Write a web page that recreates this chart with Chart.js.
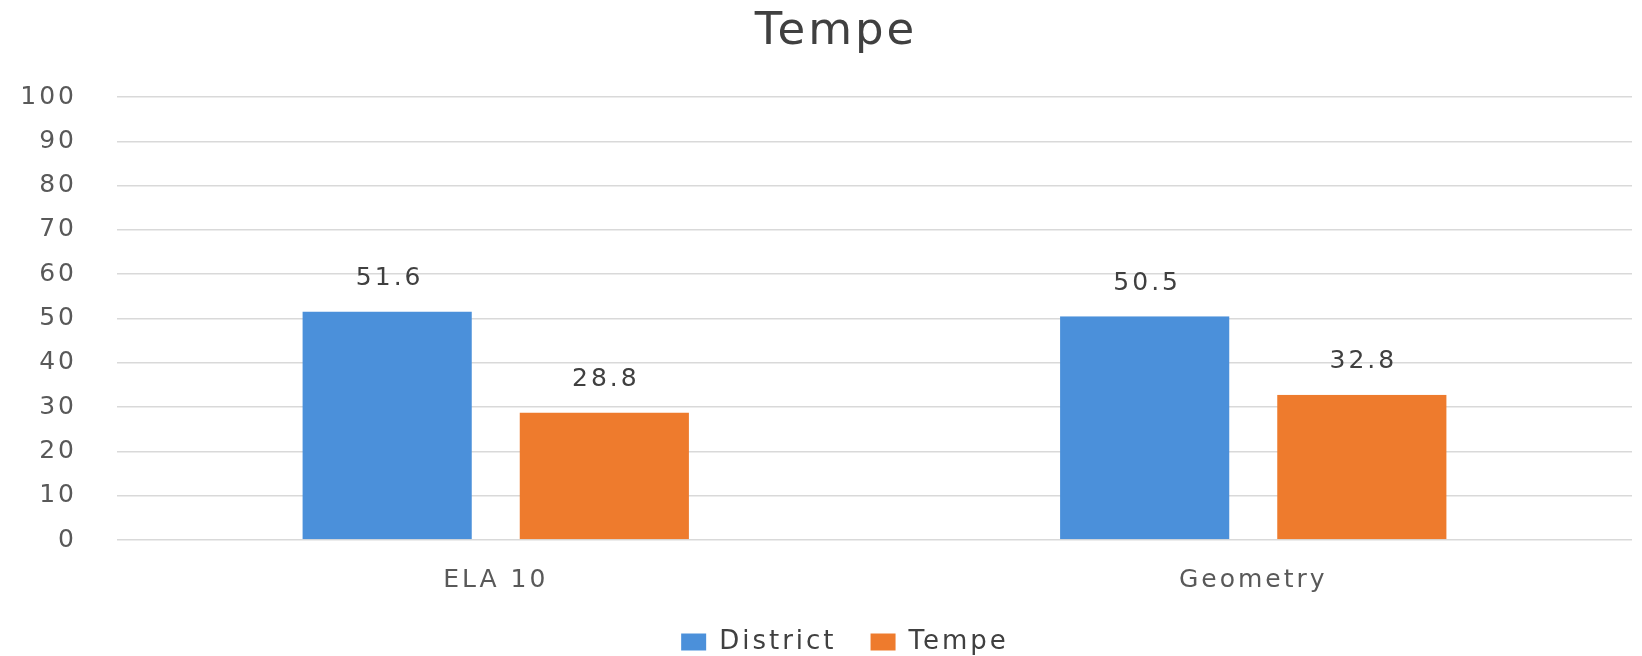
<!DOCTYPE html>
<html>
<head>
<meta charset="utf-8">
<title>Tempe</title>
<script src="https://cdn.jsdelivr.net/npm/chart.js@4/dist/chart.umd.min.js"></script>
<style>
  html, body { margin: 0; padding: 0; background: #fff; }
  #wrap { width: 1642px; height: 656px; }
</style>
</head>
<body>
<div id="wrap"><canvas id="chart"></canvas></div>
<script>
const categories = ["ELA 10", "Geometry"];
const districtValues = [51.6, 50.5];
const tempeValues = [28.8, 32.8];
const yTicks = [0, 10, 20, 30, 40, 50, 60, 70, 80, 90, 100];

const textFont = "'DejaVu Sans', sans-serif";

// the picture text is wide, so widen canvas text a bit
const spacingPlugin = {
  id: "spacing",
  beforeUpdate(chart) { chart.ctx.letterSpacing = "3px"; },
  beforeDraw(chart) { chart.ctx.letterSpacing = "3px"; },
  // title and legend sit a little right of centre in the picture
  afterLayout(chart) {
    chart.titleBlock.left += 20;
    chart.titleBlock.right += 20;
    chart.legend.left += 29;
    chart.legend.right += 29;
  }
};

const valueLabels = {
  id: "valueLabels",
  afterDatasetsDraw(chart) {
    const ctx = chart.ctx;
    ctx.save();
    ctx.font = "25px " + textFont;
    ctx.fillStyle = "#404040";
    ctx.textAlign = "center";
    ctx.textBaseline = "middle";
    chart.data.datasets.forEach((ds, i) => {
      chart.getDatasetMeta(i).data.forEach((bar, j) => {
        ctx.fillText(ds.data[j].toFixed(1), bar.x + 2, bar.y - 33);
      });
    });
    ctx.restore();
  }
};

new Chart(document.getElementById("chart"), {
  type: "bar",
  data: {
    labels: categories,
    datasets: [
      {
        label: "District",
        data: districtValues,
        backgroundColor: "#4b90da",
        borderColor: "rgba(0,0,0,0)",
        borderWidth: { left: 23, right: 24, top: 0, bottom: 0 },
        borderSkipped: false
      },
      {
        label: "Tempe",
        data: tempeValues,
        backgroundColor: "#ee7b2d",
        borderColor: "rgba(0,0,0,0)",
        borderWidth: { left: 24, right: 23, top: 0, bottom: 0 },
        borderSkipped: false
      }
    ]
  },
  options: {
    responsive: true,
    maintainAspectRatio: false,
    animation: false,
    layout: { padding: { left: 0, right: 10, top: 0, bottom: -9 } },
    datasets: {
      bar: { categoryPercentage: 0.5707, barPercentage: 1.0 }
    },
    plugins: {
      title: {
        display: true,
        text: "Tempe",
        color: "#404040",
        font: { family: textFont, size: 45, weight: "normal" },
        padding: { top: 5, bottom: 38 }
      },
      legend: {
        position: "bottom",
        labels: {
          color: "#404040",
          font: { family: textFont, size: 26 },
          boxWidth: 25,
          boxHeight: 17,
          padding: 34
        }
      },
      tooltip: { enabled: false }
    },
    scales: {
      x: {
        afterFit(scale) { scale.height = 55; },
        grid: { display: false, drawTicks: false },
        border: { display: false },
        ticks: {
          color: "#595959",
          font: { family: textFont, size: 25 },
          padding: 25
        }
      },
      y: {
        min: 0,
        max: 100,
        afterBuildTicks(scale) {
          scale.ticks = yTicks.map(v => ({ value: v }));
        },
        afterFit(scale) { scale.width = 117; },
        grid: { color: "#d9d9d9", lineWidth: 1.5, drawTicks: false },
        border: { display: false },
        ticks: {
          color: "#595959",
          font: { family: textFont, size: 25 },
          padding: 40
        }
      }
    }
  },
  plugins: [spacingPlugin, valueLabels]
});
</script>
</body>
</html>
